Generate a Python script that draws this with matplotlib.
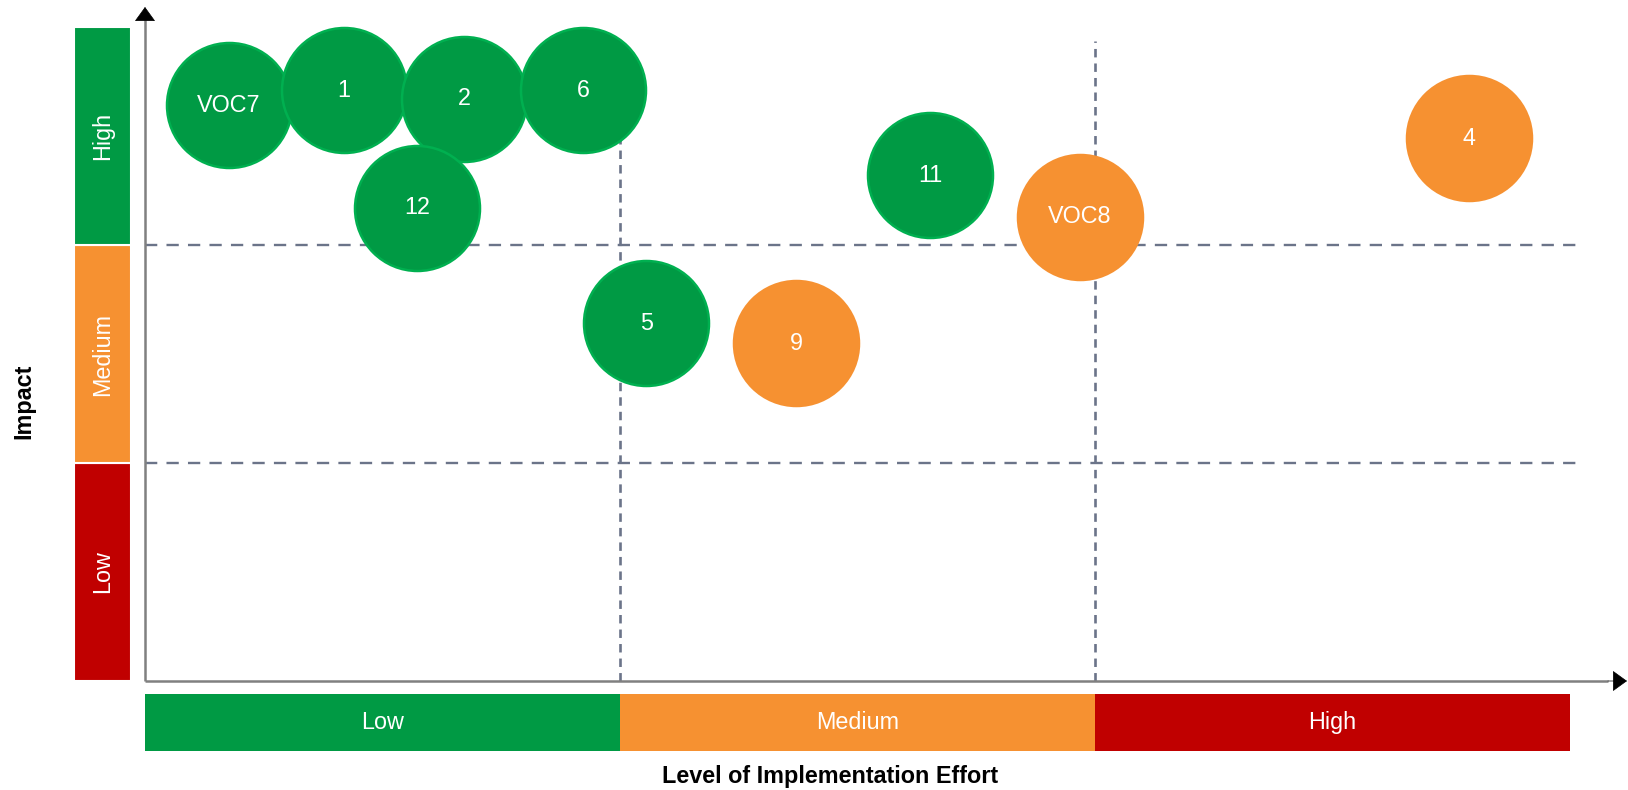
import matplotlib
matplotlib.use("Agg")
import matplotlib.pyplot as plt

plt.rcParams["font.family"] = ["Liberation Sans", "DejaVu Sans"]

# ---------------- data ----------------
labels = ["VOC7", "1", "2", "6", "12", "5", "9", "11", "VOC8", "4"]
effort = [1.76, 4.18, 6.72, 9.23, 5.73, 10.55, 13.71, 16.53, 19.68, 27.87]
impact = [26.4, 27.1, 26.7, 27.1, 21.7, 16.4, 15.5, 23.2, 21.3, 24.9]
bubble_group = ["green", "green", "green", "green", "green",
                "green", "orange", "green", "orange", "orange"]

level_names = ["Low", "Medium", "High"]
level_edges = [0, 10, 20, 30]

# ---------------- style ----------------
GREEN = "#009A44"
GREEN_EDGE = "#00B050"
ORANGE = "#F69131"
RED = "#C00000"
DASH = "#6B7489"
AXIS = "#808080"
fill_map = {"green": GREEN, "orange": ORANGE}
edge_map = {"green": GREEN_EDGE, "orange": ORANGE}
level_colors = [GREEN, ORANGE, RED]          # effort: low=green ... high=red
impact_colors = [RED, ORANGE, GREEN]         # impact: low=red ... high=green

W, H = 1628, 790
fig = plt.figure(figsize=(W / 100, H / 100), dpi=100)


def rect(x0, y0, x1, y1):
    return [x0 / W, 1 - y1 / H, (x1 - x0) / W, (y1 - y0) / H]


PX_X, PX_Y = 47.5, 21.8
X0, Y0 = 145, 681
XMAX = (W - X0) / PX_X
YMAX = Y0 / PX_Y

ax = fig.add_axes(rect(X0, 0, W, Y0))
ax.set_xlim(0, XMAX)
ax.set_ylim(0, YMAX)
ax.axis("off")

# quadrant dashed lines
for b in level_edges[1:-1]:
    ax.plot([b, b], [0, (Y0 - 41) / PX_Y], color=DASH, lw=1.9,
            linestyle=(0, (3.2, 2.3)), zorder=1, clip_on=False)
    ax.plot([0, (1581 - X0) / PX_X], [b, b], color=DASH, lw=1.7,
            linestyle=(0, (5.2, 3.9)), zorder=1, clip_on=False)

# axis lines with arrow heads
y_tip = (Y0 - 7) / PX_Y
y_base = (Y0 - 20) / PX_Y
x_tip = (1627 - X0) / PX_X
x_base = (1608 - X0) / PX_X
ax.plot([0, 0], [0, y_base], color=AXIS, lw=1.8, zorder=2, clip_on=False,
        solid_capstyle="butt")
ax.plot([0, x_base], [0, 0], color=AXIS, lw=1.8, zorder=2, clip_on=False,
        solid_capstyle="butt")
arrow_kw = dict(arrowstyle="-|>,head_length=0.47,head_width=0.34",
                mutation_scale=20, fc="black", ec="black", lw=0.5,
                shrinkA=0, shrinkB=0)
ax.annotate("", xy=(0, y_tip), xytext=(0, y_base), arrowprops=arrow_kw,
            annotation_clip=False)
ax.annotate("", xy=(x_tip, 0), xytext=(x_base, 0), arrowprops=arrow_kw,
            annotation_clip=False)

# bubbles
for lab, x, y, g in zip(labels, effort, impact, bubble_group):
    ax.scatter([x], [y], s=90 ** 2, color=fill_map[g], edgecolors=edge_map[g],
               linewidths=1.8, zorder=3, clip_on=False)
for lab, x, y in zip(labels, effort, impact):
    ax.text(x, y, lab, color="white", fontsize=16.8, ha="center",
            va="center", zorder=5)

# left impact bars
axL = fig.add_axes(rect(74, 0, 131, Y0))
axL.set_ylim(0, YMAX)
axL.set_xlim(0, 1)
axL.axis("off")
bottoms = level_edges[:-1]
heights = [level_edges[i + 1] - level_edges[i] for i in range(3)]
axL.bar([0.5] * 3, heights, bottom=bottoms, width=1, color=impact_colors,
        edgecolor="white", linewidth=1.5)
for name, b, h in zip(level_names, bottoms, heights):
    axL.text(0.5, b + h / 2, name, rotation=90, color="white", fontsize=16.8,
             ha="center", va="center")

# bottom effort bars
axB = fig.add_axes(rect(X0, 694, W, 751))
axB.set_xlim(0, XMAX)
axB.set_ylim(0, 1)
axB.axis("off")
centers = [b + h / 2 for b, h in zip(bottoms, heights)]
axB.bar(centers, [1] * 3, width=heights, color=level_colors,
        edgecolor="none", linewidth=0)
for name, c in zip(level_names, centers):
    axB.text(c, 0.5, name, color="white", fontsize=16.8, ha="center",
             va="center")

# axis titles
fig.text(24 / W, 1 - 401 / H, "Impact", rotation=90, fontsize=16.8,
         fontweight="bold", ha="center", va="center")
fig.text(830 / W, 1 - 777 / H, "Level of Implementation Effort",
         fontsize=16.8, fontweight="bold", ha="center", va="center")

fig.savefig("out.png", dpi=100, facecolor="white")
